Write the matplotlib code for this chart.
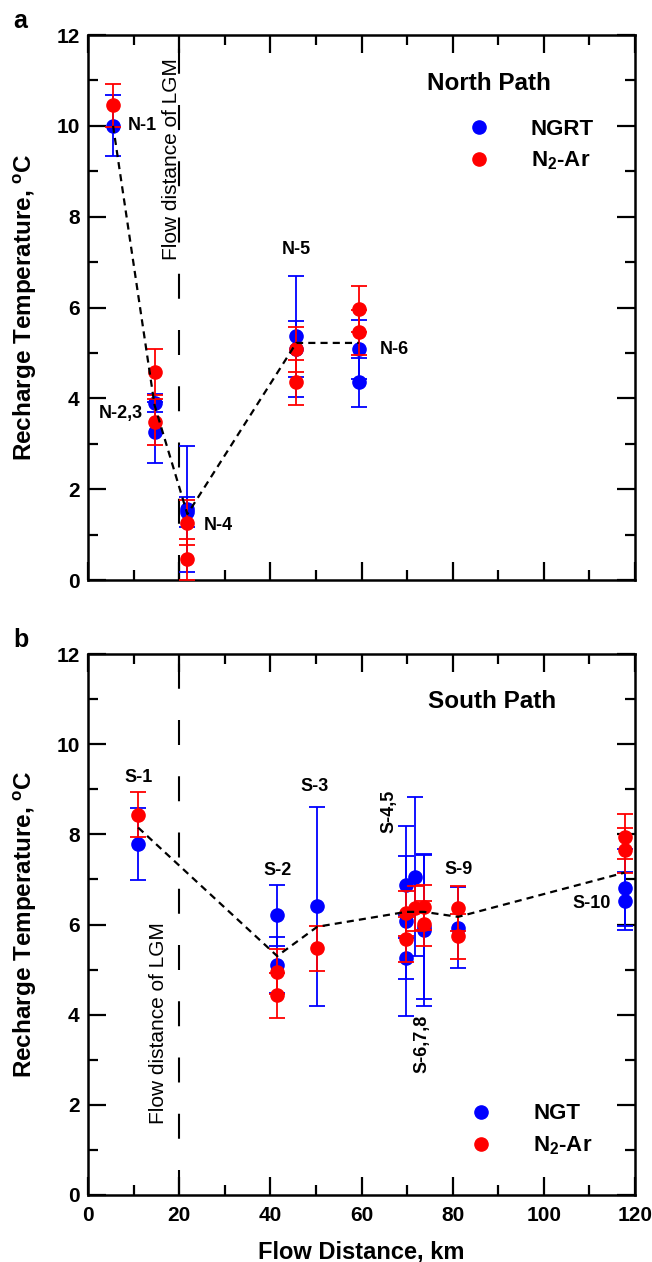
import matplotlib
matplotlib.use('Agg')
import matplotlib.pyplot as plt
from matplotlib.lines import Line2D
from matplotlib.ticker import MultipleLocator

plt.rcParams['font.family'] = ['Liberation Sans', 'DejaVu Sans']
plt.rcParams['font.weight'] = 'bold'
plt.rcParams['axes.labelweight'] = 'bold'
plt.rcParams['mathtext.fontset'] = 'custom'
plt.rcParams['mathtext.rm'] = 'Liberation Sans:bold'
plt.rcParams['mathtext.bf'] = 'Liberation Sans:bold'
plt.rcParams['mathtext.it'] = 'Liberation Sans:bold'

# ---- North path (panel a) ----
north_km = [5.5, 14.6, 14.6, 21.8, 21.8, 45.7, 45.7, 59.4, 59.4]
north_ngrt = [10.0, 3.9, 3.25, 1.56, 1.5, 5.37, 5.08, 5.08, 4.35]
north_ngrt_err = [0.67, 0.2, 0.67, 1.38, 0.33, 1.33, 0.62, 0.65, 0.54]
north_n2ar = [10.45, 4.58, 3.48, 1.26, 0.46, 5.08, 4.35, 5.97, 5.45]
north_n2ar_err = [0.48, 0.5, 0.5, 0.5, 0.45, 0.5, 0.5, 0.5, 0.5]
north_trend_km = [5.5, 14.6, 21.8, 45.7, 59.4]
north_trend = [10.0, 3.85, 1.45, 5.22, 5.22]

# ---- South path (panel b) ----
south_ngt_km = [11.0, 41.5, 41.5, 50.3, 69.8, 69.8, 69.8, 71.8, 73.7, 73.7, 81.2, 117.7, 117.7]
south_ngt = [7.78, 6.2, 5.1, 6.4, 6.87, 6.08, 5.25, 7.06, 5.88, 5.95, 5.93, 6.82, 6.52]
south_ngt_err = [0.8, 0.67, 0.63, 2.2, 0.65, 2.1, 0.45, 1.76, 1.68, 1.6, 0.9, 0.85, 0.65]
south_n2ar_km = [11.0, 41.5, 41.5, 50.3, 69.8, 69.8, 71.8, 73.7, 73.7, 81.2, 81.2, 117.7, 117.7]
south_n2ar = [8.43, 4.95, 4.43, 5.47, 6.25, 5.67, 6.36, 6.38, 6.02, 6.36, 5.74, 7.95, 7.65]
south_n2ar_err = [0.5] * 13
south_trend_km = [11.0, 41.5, 50.3, 69.8, 73.7, 81.2, 117.7]
south_trend = [8.15, 5.3, 5.95, 6.28, 6.28, 6.17, 7.15]

lgm_km = 20

fig = plt.figure(figsize=(6.52, 12.62), dpi=100)
ax_a = fig.add_axes([88 / 652, 1 - 580 / 1262, 547 / 652, 545 / 1262])
ax_b = fig.add_axes([88 / 652, 1 - 1195 / 1262, 547 / 652, 541 / 1262])

ylab = r'Recharge Temperature, $^{\mathbf{o}}$C'
marker_kw = dict(fmt='o', ms=9.5, elinewidth=1.3, capsize=6, capthick=1.3)
legend_kw = dict(loc='center left', frameon=False, fontsize=16, borderpad=0, borderaxespad=0,
                 handlelength=1.0, handletextpad=1.85, labelspacing=0.45)


def draw_panel(ax, km_b, yb, eb, km_r, yr, er, tkm, ty):
    ax.axvline(lgm_km, color='black', lw=1.5, dashes=(12, 15), zorder=1)
    ax.errorbar(km_b, yb, yerr=eb, color='#0000ff', ecolor='#0000ff', zorder=2, **marker_kw)
    ax.errorbar(km_r, yr, yerr=er, color='#ff0000', ecolor='#ff0000', zorder=3, **marker_kw)
    ax.plot(tkm, ty, color='black', lw=1.6, dashes=(3.2, 2.3), zorder=4)

    ax.set_xlim(0, 120)
    ax.set_ylim(0, 12)
    ax.xaxis.set_major_locator(MultipleLocator(20))
    ax.xaxis.set_minor_locator(MultipleLocator(10))
    ax.yaxis.set_major_locator(MultipleLocator(2))
    ax.yaxis.set_minor_locator(MultipleLocator(1))
    ax.tick_params(which='both', direction='in', top=True, right=True, width=1.6, labelsize=15)
    ax.tick_params(which='major', length=13)
    ax.tick_params(which='minor', length=7)
    ax.tick_params(axis='y', pad=6)
    ax.tick_params(axis='x', pad=8)
    for s in ax.spines.values():
        s.set_linewidth(1.8)
    ax.set_ylabel(ylab, fontsize=17.5)
    ax.yaxis.set_label_coords(-0.09, 0.5)

    handles = [Line2D([], [], ls='none', marker='o', ms=9.5, color='#0000ff'),
               Line2D([], [], ls='none', marker='o', ms=9.5, color='#ff0000')]
    return handles


h = draw_panel(ax_a, north_km, north_ngrt, north_ngrt_err, north_km, north_n2ar,
               north_n2ar_err, north_trend_km, north_trend)
ax_a.tick_params(labelbottom=False)
ax_a.legend(h, ['NGRT', r'N$_{\mathbf{2}}$-Ar'], bbox_to_anchor=(0.694, 0.797), **legend_kw)
ax_a.text(88, 10.93, 'North Path', ha='center', va='center', fontsize=17.5)
ax_a.text(18.3, 9.26, 'Flow distance of LGM', rotation=90, ha='center', va='center',
          fontsize=15, fontweight='normal')
ax_a.text(8.8, 10.0, 'N-1', ha='left', va='center', fontsize=13)
ax_a.text(12.1, 3.66, 'N-2,3', ha='right', va='center', fontsize=13)
ax_a.text(25.4, 1.19, 'N-4', ha='left', va='center', fontsize=13)
ax_a.text(45.7, 7.27, 'N-5', ha='center', va='center', fontsize=13)
ax_a.text(64.0, 5.08, 'N-6', ha='left', va='center', fontsize=13)

h = draw_panel(ax_b, south_ngt_km, south_ngt, south_ngt_err, south_n2ar_km, south_n2ar,
               south_n2ar_err, south_trend_km, south_trend)
ax_b.legend(h, ['NGT', r'N$_{\mathbf{2}}$-Ar'], bbox_to_anchor=(0.698, 0.12), **legend_kw)
ax_b.set_xlabel('Flow Distance, km', fontsize=17)
ax_b.xaxis.set_label_coords(0.5, -0.085)
ax_b.text(88.7, 10.94, 'South Path', ha='center', va='center', fontsize=17.5)
ax_b.text(15.5, 3.82, 'Flow distance of LGM', rotation=90, ha='center', va='center',
          fontsize=15, fontweight='normal')
ax_b.text(11.0, 9.27, 'S-1', ha='center', va='center', fontsize=13)
ax_b.text(41.6, 7.2, 'S-2', ha='center', va='center', fontsize=13)
ax_b.text(49.7, 9.05, 'S-3', ha='center', va='center', fontsize=13)
ax_b.text(66.0, 8.5, 'S-4,5', rotation=90, ha='center', va='center', fontsize=13)
ax_b.text(73.3, 3.35, 'S-6,7,8', rotation=90, ha='center', va='center', fontsize=13)
ax_b.text(81.4, 7.23, 'S-9', ha='center', va='center', fontsize=13)
ax_b.text(114.8, 6.47, 'S-10', ha='right', va='center', fontsize=13)

fig.text(13 / 652, 1 - 28 / 1262, 'a', fontsize=18, ha='left', va='baseline')
fig.text(13 / 652, 1 - 647 / 1262, 'b', fontsize=18, ha='left', va='baseline')

fig.savefig('out.png', dpi=100)
